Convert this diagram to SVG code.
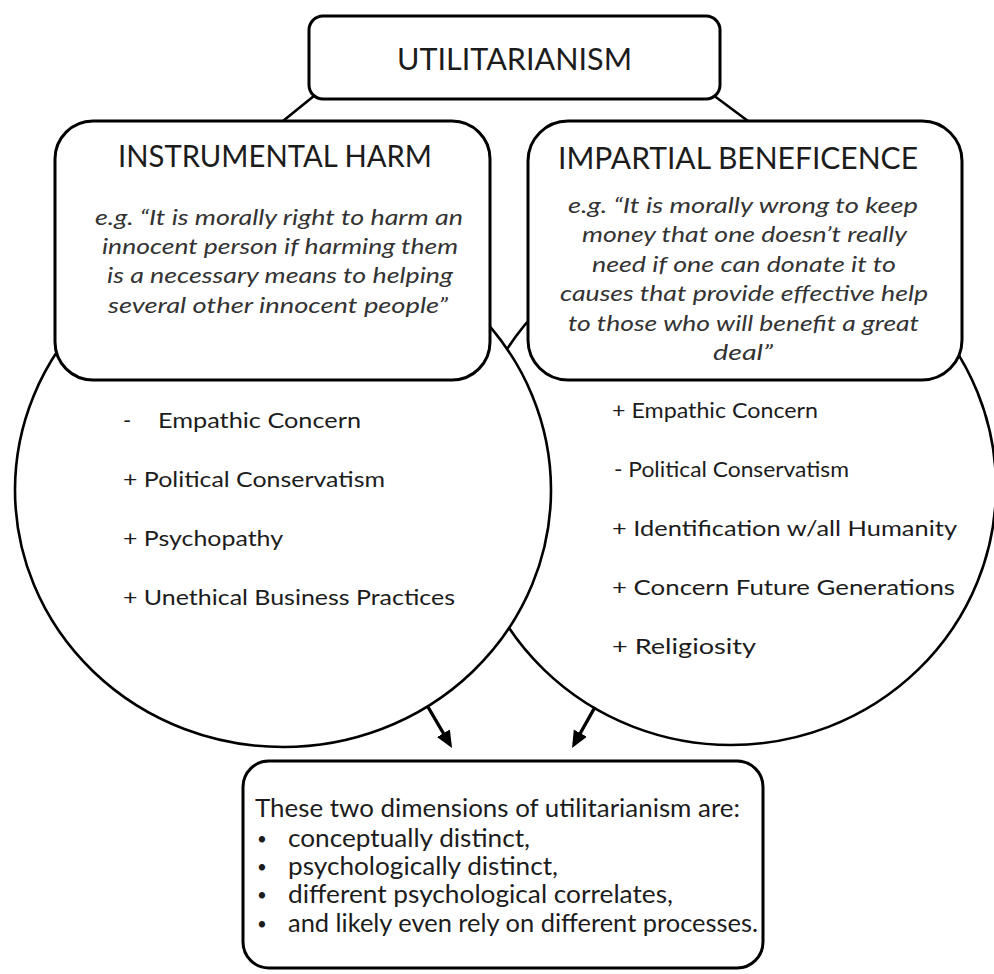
<svg xmlns="http://www.w3.org/2000/svg" width="994" height="974" viewBox="0 0 994 974">
<defs>
<marker id="ah" markerUnits="userSpaceOnUse" markerWidth="20" markerHeight="16" refX="13" refY="7.5" orient="auto">
<path d="M0,0 L17,7.5 L0,15 z" fill="#000"/>
</marker>
</defs>
<style>
.box{fill:#fff;stroke:#000;stroke-width:3}
.ring{fill:#fff;stroke:#000;stroke-width:2.6}
.ln{fill:none;stroke:#000;stroke-width:2.6}
.arr{fill:none;stroke:#000;stroke-width:3.4}
text{font-family:Lato,"Noto Sans","Liberation Sans",sans-serif;fill:#1c1c1c}
.h{font-size:30px}
.q{font-size:22px;font-style:italic;fill:#333}
.li{font-size:22px}
.bt{font-size:24.5px}
.bu{font-size:17px}
</style>
<rect width="994" height="974" fill="#fff"/>
<g id="circle-beneficence"><ellipse class="ring" cx="731" cy="487" rx="265" ry="258"/></g>
<g id="circle-harm"><ellipse class="ring" cx="283" cy="490" rx="268" ry="257"/></g>
<g id="connectors">
<line class="ln" x1="325" y1="87" x2="283" y2="121"/>
<line class="ln" x1="705" y1="89" x2="748" y2="121"/>
<line class="arr" x1="428" y1="707" x2="450" y2="744.5" marker-end="url(#ah)"/>
<line class="arr" x1="595" y1="707" x2="574" y2="744.5" marker-end="url(#ah)"/>
</g>
<g id="utilitarianism">
<rect class="box" x="309" y="16" width="411" height="83" rx="14"/>
<text class="h" x="397" y="70" textLength="235" lengthAdjust="spacingAndGlyphs">UTILITARIANISM</text>
</g>
<g id="instrumental-harm">
<rect class="box" x="55" y="121" width="435" height="259" rx="38"/>
<text class="h" x="118" y="167" textLength="314" lengthAdjust="spacingAndGlyphs">INSTRUMENTAL HARM</text>
<text class="q" x="95" y="225" textLength="368" lengthAdjust="spacingAndGlyphs">e.g. “It is morally right to harm an</text>
<text class="q" x="102" y="254" textLength="356" lengthAdjust="spacingAndGlyphs">innocent person if harming them</text>
<text class="q" x="107" y="283" textLength="346" lengthAdjust="spacingAndGlyphs">is a necessary means to helping</text>
<text class="q" x="108" y="313" textLength="340" lengthAdjust="spacingAndGlyphs">several other innocent people”</text>
</g>
<g id="impartial-beneficence">
<rect class="box" x="528" y="121" width="434" height="259" rx="40"/>
<text class="h" x="558" y="169" textLength="360" lengthAdjust="spacingAndGlyphs">IMPARTIAL BENEFICENCE</text>
<text class="q" x="568" y="213" textLength="350" lengthAdjust="spacingAndGlyphs">e.g. “It is morally wrong to keep</text>
<text class="q" x="582" y="242" textLength="325" lengthAdjust="spacingAndGlyphs">money that one doesn’t really</text>
<text class="q" x="592" y="272" textLength="304" lengthAdjust="spacingAndGlyphs">need if one can donate it to</text>
<text class="q" x="560" y="301" textLength="368" lengthAdjust="spacingAndGlyphs">causes that provide effective help</text>
<text class="q" x="568" y="331" textLength="351" lengthAdjust="spacingAndGlyphs">to those who will benefit a great</text>
<text class="q" x="713" y="360" textLength="60" lengthAdjust="spacingAndGlyphs">deal”</text>
</g>
<g id="harm-correlates">
<text class="li" x="123" y="428">-</text>
<text class="li" x="158" y="428" textLength="203" lengthAdjust="spacingAndGlyphs">Empathic Concern</text>
<text class="li" x="123" y="487" textLength="262" lengthAdjust="spacingAndGlyphs">+ Political Conservatism</text>
<text class="li" x="123" y="546" textLength="160" lengthAdjust="spacingAndGlyphs">+ Psychopathy</text>
<text class="li" x="123" y="605" textLength="332" lengthAdjust="spacingAndGlyphs">+ Unethical Business Practices</text>
</g>
<g id="beneficence-correlates">
<text class="li" x="612" y="418" textLength="206" lengthAdjust="spacingAndGlyphs">+ Empathic Concern</text>
<text class="li" x="614" y="477" textLength="235" lengthAdjust="spacingAndGlyphs">- Political Conservatism</text>
<text class="li" x="612" y="536" textLength="345" lengthAdjust="spacingAndGlyphs">+ Identification w/all Humanity</text>
<text class="li" x="612" y="595" textLength="343" lengthAdjust="spacingAndGlyphs">+ Concern Future Generations</text>
<text class="li" x="612" y="654" textLength="144" lengthAdjust="spacingAndGlyphs">+ Religiosity</text>
</g>
<g id="conclusion">
<rect class="box" x="243" y="761" width="520" height="207" rx="26"/>
<text class="bt" x="255" y="817" textLength="485" lengthAdjust="spacingAndGlyphs">These two dimensions of utilitarianism are:</text>
<text class="bu" x="257" y="845">•</text><text class="bt" x="288" y="847" textLength="242" lengthAdjust="spacingAndGlyphs">conceptually distinct,</text>
<text class="bu" x="257" y="873">•</text><text class="bt" x="288" y="875" textLength="270" lengthAdjust="spacingAndGlyphs">psychologically distinct,</text>
<text class="bu" x="257" y="901">•</text><text class="bt" x="288" y="903" textLength="385" lengthAdjust="spacingAndGlyphs">different psychological correlates,</text>
<text class="bu" x="257" y="930">•</text><text class="bt" x="288" y="932" textLength="470" lengthAdjust="spacingAndGlyphs">and likely even rely on different processes.</text>
</g>
</svg>
